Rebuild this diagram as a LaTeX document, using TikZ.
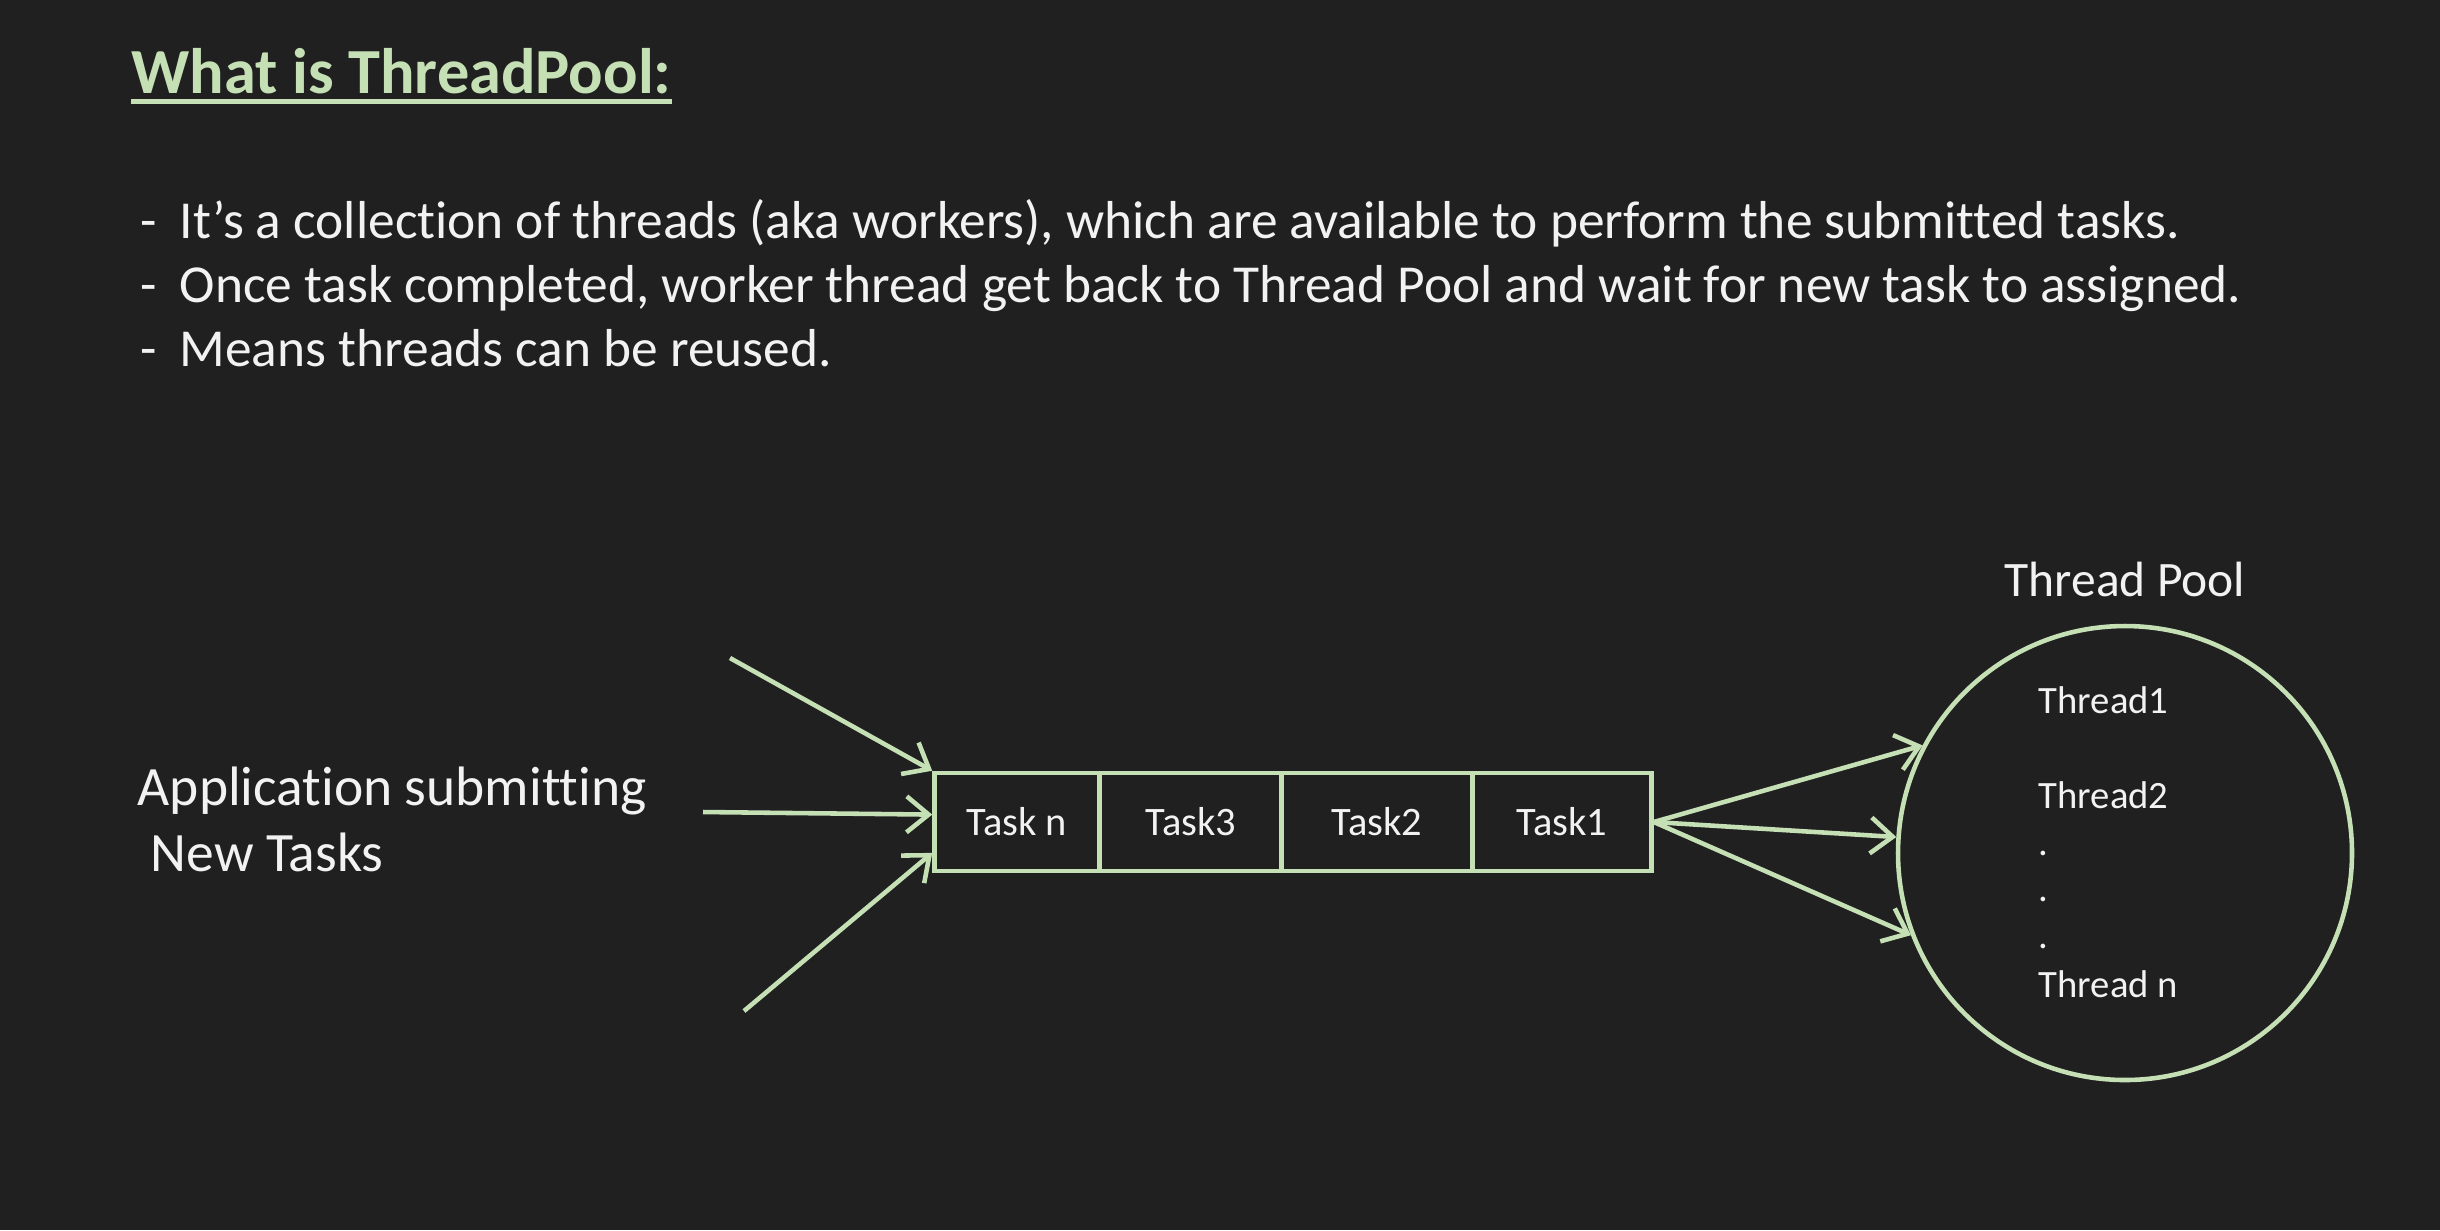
\documentclass[tikz,border=0pt]{standalone}
\usepackage{fontspec}
\setmainfont{Carlito}[Ligatures={NoCommon}]
\usepackage{xcolor}
\usetikzlibrary{arrows.meta}
\definecolor{slidebg}{HTML}{202020}
\definecolor{palegreen}{HTML}{C5E0B4}
\definecolor{softwhite}{HTML}{F2F2F2}

\begin{document}
\begin{tikzpicture}[x=0.1mm, y=-0.1mm, >={Straight Barb[length=2.2mm, width=3.6mm]},
  every task/.style={draw=palegreen, line width=1.3pt, minimum height=9.8mm, inner sep=0pt,
    text=softwhite, font=\fontsize{11.5}{13}\selectfont},
  label text/.style={anchor=base west, inner sep=0pt, text=softwhite},
  flow/.style={->, draw=palegreen, line width=1.3pt}]

% Slide background
\fill[slidebg] (0,0) rectangle (2440,1230);

% Heading
\node[label text, text=palegreen, font=\fontsize{18.3}{22}\selectfont\bfseries] (title) at (131,93) {What is ThreadPool:};
\draw[palegreen, line width=1.4pt] ([yshift=-2.3pt]title.base west) -- ([yshift=-2.3pt]title.base east);

% Bullet points
\foreach \txt [count=\i] in {{It’s a collection of threads (aka workers), which are available to perform the submitted tasks.},
    {Once task completed, worker thread get back to Thread Pool and wait for new task to assigned.},
    {Means threads can be reused.}}
  \node[label text, font=\fontsize{15.2}{18}\selectfont] (point-\i) at (140,{174+64*\i}) {\makebox[3.9mm][l]{-}\txt};

% Application side
\node[label text, font=\fontsize{15.8}{19}\selectfont] (app-1) at (137,805) {Application submitting};
\node[label text, font=\fontsize{15.8}{19}\selectfont] (app-2) at (150,871) {New Tasks};

% Task queue
\foreach \name/\txt/\cx/\w in {taskn/Task n/1017/165, task3/Task3/1191/182, task2/Task2/1377/191, task1/Task1/1562/179}
  \node[every task, minimum width=\w*0.1mm] (\name) at (\cx,822) {\txt};

% Incoming tasks
\coordinate (src-1) at (730,658);
\coordinate (src-2) at (703,812);
\coordinate (src-3) at (744,1011);
\draw[flow] (src-1) -- (taskn.north west);
\draw[flow] (src-2) -- (taskn.175);
\draw[flow] (src-3) -- (taskn.200);

% Thread pool
\node[circle, draw=palegreen, line width=1.3pt, minimum size=45.4mm, inner sep=0pt] (pool) at (2125,853) {};
\node[anchor=base, inner sep=0pt, text=softwhite, font=\fontsize{14.1}{17}\selectfont] (pool-title) at (2125,596) {Thread Pool};
\foreach \t/\y [count=\k] in {Thread1/713, Thread2/808, ./855, ./901, ./948, Thread n/997}
  \node[label text, font=\fontsize{11}{13}\selectfont] (thread-\k) at (2038,\y) {\t};

% Queue to pool
\foreach \a in {152,176,201}
  \draw[flow] (task1.east) -- (pool.\a);

\end{tikzpicture}
\end{document}
